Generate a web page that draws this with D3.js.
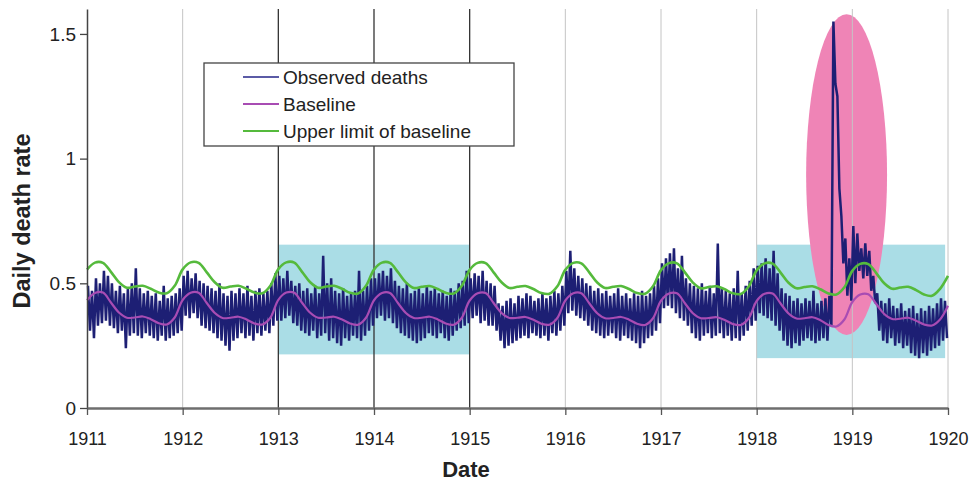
<!DOCTYPE html>
<html lang="en">
<head>
<meta charset="utf-8">
<title>Daily death rate 1911-1920</title>
<script src="https://d3js.org/d3.v7.min.js"></script>
<style>
body { margin: 0; background: #fff; font-family: "Liberation Sans", Arial, sans-serif; }
.tick text { font-size: 18px; fill: #222; font-family: "Liberation Sans", Arial, sans-serif; }
.axis-title { font-size: 22px; font-weight: bold; fill: #222; }
.legend text { font-size: 19px; fill: #222; }
</style>
</head>
<body>
<div id="chart"></div>
<script>
// years on the x axis (ticks), one half-month bin per observed hi/lo value
var years = [1911, 1912, 1913, 1914, 1915, 1916, 1917, 1918, 1919, 1920];
var darkYears = [1913, 1914, 1915];
var yTicks = [0, 0.5, 1, 1.5];

// baseline, value at the start of each month, Jan 1911 .. Jan 1920
var baseline = [
  0.432,0.461,0.463,0.423,0.383,0.362,0.363,0.367,0.356,0.340,0.335,0.363, // 1911
  0.433,0.462,0.462,0.422,0.382,0.361,0.362,0.366,0.355,0.339,0.335,0.362, // 1912
  0.434,0.463,0.462,0.421,0.382,0.362,0.363,0.366,0.355,0.339,0.334,0.362, // 1913
  0.432,0.461,0.461,0.421,0.381,0.361,0.362,0.366,0.355,0.339,0.334,0.361, // 1914
  0.431,0.460,0.461,0.421,0.381,0.361,0.362,0.365,0.354,0.338,0.334,0.361, // 1915
  0.431,0.460,0.460,0.420,0.380,0.360,0.361,0.365,0.354,0.338,0.333,0.360, // 1916
  0.430,0.459,0.460,0.420,0.380,0.360,0.361,0.364,0.353,0.337,0.333,0.360, // 1917
  0.429,0.458,0.459,0.419,0.379,0.359,0.360,0.364,0.352,0.333,0.327,0.355, // 1918
  0.425,0.455,0.456,0.417,0.377,0.357,0.358,0.362,0.350,0.335,0.331,0.355, // 1919
  0.410
];

// upper limit of baseline, same months
var upper = [
  0.555,0.583,0.582,0.546,0.505,0.482,0.487,0.490,0.478,0.463,0.460,0.490, // 1911
  0.556,0.584,0.582,0.545,0.505,0.482,0.487,0.490,0.478,0.463,0.460,0.490, // 1912
  0.557,0.584,0.583,0.545,0.504,0.482,0.487,0.490,0.478,0.462,0.459,0.490, // 1913
  0.555,0.583,0.582,0.545,0.504,0.481,0.486,0.489,0.477,0.462,0.459,0.489, // 1914
  0.554,0.582,0.581,0.544,0.504,0.481,0.486,0.489,0.477,0.461,0.458,0.488, // 1915
  0.554,0.582,0.580,0.544,0.503,0.481,0.486,0.489,0.477,0.461,0.458,0.488, // 1916
  0.553,0.581,0.580,0.544,0.503,0.480,0.485,0.488,0.476,0.460,0.457,0.487, // 1917
  0.552,0.580,0.579,0.543,0.502,0.480,0.485,0.488,0.476,0.459,0.455,0.484, // 1918
  0.550,0.578,0.577,0.541,0.500,0.478,0.483,0.486,0.473,0.455,0.450,0.478, // 1919
  0.530
];

// observed deaths: high and low of each half-month, 24 per year
var obsHigh = [
  0.49,0.47,0.52,0.50,0.55,0.53,0.50,0.47,0.49,0.46,0.48,0.50,0.56,0.48,0.46,0.47,0.45,0.46,0.43,0.49,0.44,0.45,0.46,0.48, // 1911
  0.53,0.55,0.52,0.54,0.51,0.50,0.49,0.48,0.47,0.50,0.46,0.45,0.47,0.46,0.48,0.46,0.49,0.45,0.47,0.48,0.46,0.47,0.50,0.54, // 1912
  0.53,0.52,0.55,0.51,0.49,0.50,0.47,0.48,0.46,0.49,0.46,0.61,0.50,0.52,0.47,0.46,0.48,0.45,0.46,0.47,0.55,0.47,0.49,0.52, // 1913
  0.52,0.54,0.55,0.53,0.56,0.51,0.49,0.48,0.50,0.46,0.47,0.48,0.46,0.49,0.47,0.48,0.46,0.47,0.45,0.48,0.47,0.50,0.51,0.55, // 1914
  0.52,0.54,0.53,0.55,0.51,0.50,0.49,0.42,0.41,0.43,0.44,0.42,0.45,0.44,0.46,0.45,0.43,0.44,0.46,0.44,0.45,0.47,0.46,0.49, // 1915
  0.55,0.63,0.56,0.53,0.52,0.50,0.49,0.47,0.48,0.46,0.47,0.45,0.46,0.48,0.45,0.46,0.44,0.46,0.45,0.47,0.45,0.46,0.49,0.52, // 1916
  0.58,0.60,0.62,0.64,0.56,0.61,0.52,0.50,0.49,0.48,0.50,0.47,0.49,0.46,0.66,0.48,0.47,0.46,0.48,0.55,0.46,0.49,0.51,0.56, // 1917
  0.57,0.58,0.60,0.56,0.63,0.54,0.48,0.46,0.45,0.43,0.44,0.42,0.44,0.43,0.47,0.42,0.43,0.44,0.45,1.55,1.25,0.77,0.68,0.60, // 1918
  0.73,0.70,0.64,0.66,0.63,0.53,0.46,0.43,0.42,0.44,0.41,0.40,0.42,0.39,0.40,0.41,0.38,0.40,0.39,0.41,0.40,0.42,0.44,0.43  // 1919
];
var obsLow = [
  0.31,0.28,0.33,0.34,0.35,0.33,0.32,0.30,0.31,0.24,0.29,0.30,0.29,0.28,0.30,0.29,0.28,0.27,0.29,0.27,0.28,0.29,0.30,0.31, // 1911
  0.37,0.36,0.38,0.36,0.33,0.32,0.31,0.30,0.28,0.27,0.25,0.23,0.27,0.28,0.30,0.28,0.29,0.27,0.30,0.29,0.31,0.30,0.33,0.35, // 1912
  0.35,0.36,0.37,0.34,0.33,0.31,0.30,0.29,0.31,0.28,0.29,0.30,0.27,0.28,0.26,0.25,0.28,0.27,0.29,0.28,0.27,0.29,0.31,0.33, // 1913
  0.36,0.37,0.35,0.36,0.34,0.32,0.30,0.29,0.28,0.27,0.26,0.27,0.28,0.30,0.29,0.28,0.30,0.28,0.27,0.29,0.31,0.32,0.33,0.34, // 1914
  0.36,0.37,0.34,0.35,0.33,0.33,0.31,0.27,0.24,0.25,0.26,0.27,0.28,0.29,0.28,0.30,0.29,0.28,0.29,0.27,0.30,0.29,0.31,0.33, // 1915
  0.38,0.39,0.37,0.36,0.35,0.33,0.31,0.30,0.29,0.28,0.29,0.30,0.28,0.27,0.29,0.28,0.27,0.26,0.24,0.26,0.28,0.29,0.31,0.34, // 1916
  0.40,0.41,0.40,0.38,0.36,0.35,0.33,0.30,0.28,0.27,0.29,0.30,0.28,0.29,0.30,0.28,0.29,0.27,0.28,0.27,0.29,0.31,0.33,0.35, // 1917
  0.38,0.37,0.36,0.35,0.33,0.31,0.27,0.25,0.24,0.26,0.25,0.27,0.28,0.27,0.26,0.27,0.28,0.27,0.33,1.30,0.88,0.58,0.45,0.43, // 1918
  0.50,0.55,0.52,0.53,0.47,0.42,0.31,0.27,0.26,0.28,0.25,0.26,0.24,0.25,0.22,0.21,0.20,0.22,0.21,0.23,0.24,0.25,0.27,0.28  // 1919
];

// shaded periods: [from, to, low value, high value]
var shadeFrom = [1913, 1918];
var shadeTo = [1915, 1919.97];
var shadeLow = [0.215, 0.2];
var shadeHigh = [0.655, 0.655];

// pandemic highlight: centre date, centre value, half width (years), half height
var pandemic = [1918.94, 0.936, 0.423, 0.643];

var seriesNames = ["Observed deaths", "Baseline", "Upper limit of baseline"];
var seriesColors = ["#1d1f74", "#a84cb3", "#55ba3c"];

var margin = {top: 9, right: 25, bottom: 75, left: 87},
    width = 973 - margin.left - margin.right,
    height = 483 - margin.top - margin.bottom;

var svg = d3.select("#chart").append("svg")
    .attr("width", 973)
    .attr("height", 483)
  .append("g")
    .attr("transform", "translate(" + margin.left + "," + margin.top + ")");

var x = d3.scaleLinear().domain([1911, 1920]).range([0, width]);
var y = d3.scaleLinear().domain([0, 1.6]).range([height, 0]);

// shading rectangles
svg.selectAll(".shade")
  .data(shadeFrom)
  .enter().append("rect")
    .attr("class", "shade")
    .attr("x", function(d) { return x(d); })
    .attr("width", function(d, i) { return x(shadeTo[i]) - x(d); })
    .attr("y", function(d, i) { return y(shadeHigh[i]); })
    .attr("height", function(d, i) { return y(shadeLow[i]) - y(shadeHigh[i]); })
    .style("fill", "#aadde6");

svg.append("ellipse")
    .attr("cx", x(pandemic[0]))
    .attr("cy", y(pandemic[1]))
    .attr("rx", x(pandemic[0] + pandemic[2]) - x(pandemic[0]))
    .attr("ry", y(0) - y(pandemic[3]))
    .style("fill", "#ef84b6");

// vertical grid lines
svg.selectAll(".grid")
  .data(years.slice(1))
  .enter().append("line")
    .attr("class", "grid")
    .attr("x1", function(d) { return x(d); })
    .attr("x2", function(d) { return x(d); })
    .attr("y1", 0)
    .attr("y2", height)
    .style("stroke", function(d) { return darkYears.indexOf(d) >= 0 ? "#333" : "#c4c4c4"; })
    .style("stroke-width", function(d) { return darkYears.indexOf(d) >= 0 ? 1.3 : 1; });

// observed deaths as a zig-zag through the high/low of each half-month
var obsPoints = [];
obsHigh.forEach(function(h, i) {
  var t = 1911 + i / 24;
  obsPoints.push([t + 1 / 96, h]);
  obsPoints.push([t + 3 / 96, obsLow[i]]);
});

var monthly = function(arr) {
  return arr.map(function(v, i) { return [1911 + i / 12, v]; });
};

var lineFn = d3.line()
    .x(function(d) { return x(d[0]); })
    .y(function(d) { return y(d[1]); });

var smooth = d3.line()
    .curve(d3.curveCatmullRom)
    .x(function(d) { return x(d[0]); })
    .y(function(d) { return y(d[1]); });

svg.append("path")
    .datum(obsPoints)
    .attr("d", lineFn)
    .style("fill", "none")
    .style("stroke", seriesColors[0])
    .style("stroke-width", 2.5)
    .style("stroke-linejoin", "bevel");

svg.append("path")
    .datum(monthly(baseline))
    .attr("d", smooth)
    .style("fill", "none")
    .style("stroke", seriesColors[1])
    .style("stroke-width", 2.2);

svg.append("path")
    .datum(monthly(upper))
    .attr("d", smooth)
    .style("fill", "none")
    .style("stroke", seriesColors[2])
    .style("stroke-width", 2.6);

// axes
var yAxis = svg.append("g")
    .call(d3.axisLeft(y).tickValues(yTicks).tickSize(7).tickSizeOuter(0).tickPadding(4).tickFormat(d3.format("")));
yAxis.select(".domain").style("stroke", "#444").style("stroke-width", 1.5);
yAxis.selectAll(".tick line").style("stroke", "#444").style("stroke-width", 1.3);
yAxis.selectAll(".tick text").style("font-size", "19px");

var xAxis = svg.append("g")
    .attr("transform", "translate(0," + height + ")")
    .call(d3.axisBottom(x).tickValues(years).tickSize(7).tickSizeOuter(0).tickPadding(17).tickFormat(d3.format("d")));
xAxis.select(".domain").style("stroke", "#6e6e6e").style("stroke-width", 2.4);
xAxis.selectAll(".tick line").style("stroke", "#555").style("stroke-width", 1.3);

svg.append("text")
    .attr("class", "axis-title")
    .attr("x", 466 - margin.left)
    .attr("y", height + 69)
    .style("text-anchor", "middle")
    .text("Date");

svg.append("text")
    .attr("class", "axis-title")
    .attr("transform", "rotate(-90)")
    .attr("x", -212)
    .attr("y", -57)
    .style("text-anchor", "middle")
    .style("font-size", "23.5px")
    .text("Daily death rate");

// legend
var legend = svg.append("g")
    .attr("class", "legend")
    .attr("transform", "translate(" + (204 - margin.left) + "," + (63 - margin.top) + ")");

legend.append("rect")
    .attr("width", 310)
    .attr("height", 83)
    .style("fill", "#fff")
    .style("stroke", "#444")
    .style("stroke-width", 1.3);

var items = legend.selectAll(".item")
  .data(seriesNames)
  .enter().append("g")
    .attr("class", "item")
    .attr("transform", function(d, i) { return "translate(0," + (14 + i * 27) + ")"; });

items.append("line")
    .attr("x1", 39)
    .attr("x2", 75)
    .style("stroke", function(d, i) { return i === 0 ? "#5b5ba6" : seriesColors[i]; })
    .style("stroke-width", 2);

items.append("text")
    .attr("x", 79)
    .attr("dy", "0.35em")
    .text(function(d) { return d; });
</script>
</body>
</html>
